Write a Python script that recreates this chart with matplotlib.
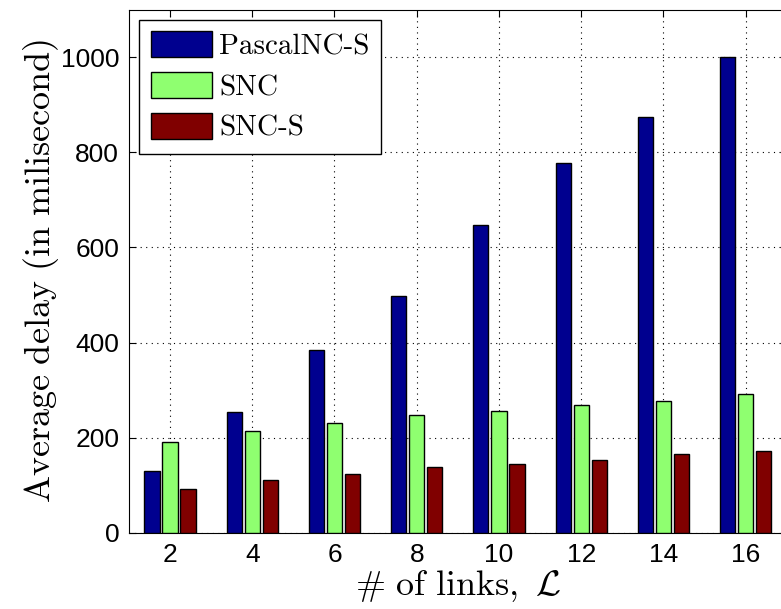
import matplotlib
matplotlib.use('Agg')
import matplotlib.pyplot as plt
import numpy as np

plt.rcParams['mathtext.fontset'] = 'cm'

# data
links = [2, 4, 6, 8, 10, 12, 14, 16]
pascal_ncs = [130, 255, 385, 497, 647, 778, 875, 1000]
snc = [191, 215, 232, 247, 257, 268, 278, 293]
snc_s = [92, 111, 124, 138, 145, 153, 166, 172]
series_names = ['PascalNC-S', 'SNC', 'SNC-S']
colors = ['#00008f', '#8fff70', '#800000']

fig = plt.figure(figsize=(7.81, 6.09), dpi=100)
# right edge sits past the figure, like the cropped original
ax = fig.add_axes([0.165, 0.1248, 0.8425, 0.8596])

x = np.array(links, dtype=float)
offset = 0.44
width = 0.37
for k, (vals, name, c) in enumerate(zip([pascal_ncs, snc, snc_s], series_names, colors)):
    ax.bar(x + (k - 1) * offset, vals, width, color=c, edgecolor='black',
           linewidth=1.0, label=name, zorder=3)

ax.set_xlim(1, 17)
ax.set_ylim(0, 1100)
ax.set_xticks(links)
ax.set_yticks([0, 200, 400, 600, 800, 1000])
ax.tick_params(direction='in', length=5, top=True, right=True, labelsize=19, pad=7)
for lab in ax.get_xticklabels() + ax.get_yticklabels():
    lab.set_fontfamily('Liberation Sans')
ax.grid(True, linestyle=(0, (1, 4)), color='black', linewidth=0.8, zorder=0)

ax.set_ylabel(r'$\mathrm{Average\ delay\ (in\ milisecond)}$', fontsize=26, labelpad=0)
ax.set_xlabel(r'$\#\ \mathrm{of\ links,}\ \mathcal{L}$', fontsize=26, labelpad=1)

leg = ax.legend(loc='upper left', prop={'family': 'cmr10', 'size': 21},
                handlelength=2.1, handleheight=1.0, borderaxespad=0.35,
                fancybox=False, framealpha=1, edgecolor='black',
                labelspacing=0.4, handletextpad=0.25, borderpad=0.4)
leg.get_frame().set_linewidth(1.0)

fig.savefig('out.png', dpi=100)
